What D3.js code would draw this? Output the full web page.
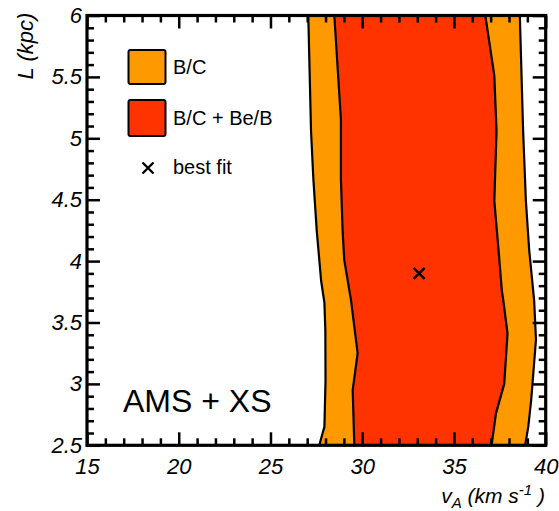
<!DOCTYPE html>
<html><head><meta charset="utf-8">
<script src="https://cdn.jsdelivr.net/npm/d3@7"></script>
<style>body{margin:0;background:#fff}</style>
</head><body><svg id="c" width="559" height="511" xmlns="http://www.w3.org/2000/svg"></svg>
<script>
// ---- data ----
const xDomain = [15, 40];
const yDomain = [2.5, 6];
const xMajor = [15, 20, 25, 30, 35, 40];
const yMajor = [2.5, 3, 3.5, 4, 4.5, 5, 5.5, 6];
const xTickLabels = ["15", "20", "25", "30", "35", "40"];
const yTickLabels = ["2.5", "3", "3.5", "4", "4.5", "5", "5.5", "6"];
// boundaries as [L, vA]
const orangeLeft = [[6,27.06],[5.06,27.21],[4.66,27.34],[4.25,27.52],[3.84,27.76],[3.66,27.94],[3.44,27.99],[3.03,28.0],[2.65,27.94],[2.62,27.88],[2.5,27.66]];
const orangeRight = [[6,38.59],[5.06,38.77],[4.49,38.92],[4.09,39.1],[3.68,39.37],[3.36,39.47],[2.87,39.21],[2.65,39.05],[2.5,38.88]];
const redLeft = [[6,28.48],[5.15,28.84],[4.66,28.84],[4.25,28.93],[4.01,29.02],[3.68,29.39],[3.25,29.75],[2.95,29.48],[2.5,29.57]];
const redRight = [[6,36.71],[5.51,37.2],[5.06,37.32],[4.49,37.2],[4.09,37.43],[3.76,37.61],[3.68,37.69],[3.41,37.92],[3.0,37.74],[2.76,37.29],[2.5,37.05]];
const bestFit = [33.1, 3.9];
const legendLabels = ["B/C", "B/C + Be/B", "best fit"];
const colors = ["#FF9900", "#FF3300"];
const annotation = "AMS + XS";

// ---- layout ----
const L = 87, R = 545.7, T = 15.5, B = 445.3;
const svg = d3.select("#c");
const x = d3.scaleLinear().domain(xDomain).range([L, R]);
const y = d3.scaleLinear().domain(yDomain).range([B, T]);
const font = "'Liberation Sans', Arial, Helvetica, sans-serif";

svg.append("defs").append("clipPath").attr("id","clip")
  .append("rect").attr("x",L).attr("y",T).attr("width",R-L).attr("height",B-T);

const plot = svg.append("g").attr("clip-path","url(#clip)");
function region(left, right){
  const pts = left.map(d=>[x(d[1]), y(d[0])]).concat(right.slice().reverse().map(d=>[x(d[1]), y(d[0])]));
  return "M" + pts.map(p=>p.join(",")).join("L") + "Z";
}
const line = d3.line().x(d=>x(d[1])).y(d=>y(d[0]));
plot.append("path").attr("d", region(orangeLeft, orangeRight)).attr("fill", colors[0]);
plot.append("path").attr("d", region(redLeft, redRight)).attr("fill", colors[1]);
[orangeLeft, orangeRight, redLeft, redRight].forEach(b=>{
  plot.append("path").attr("d", line(b)).attr("fill","none").attr("stroke","#000").attr("stroke-width",2.2).attr("stroke-linejoin","round");
});

// best fit cross
function cross(g, cx, cy, s){
  g.append("path").attr("d",`M${cx-s},${cy-s}L${cx+s},${cy+s}M${cx-s},${cy+s}L${cx+s},${cy-s}`)
   .attr("stroke","#000").attr("stroke-width",2.4).attr("fill","none");
}
cross(svg, x(bestFit[0]), y(bestFit[1]), 5.5);

// ---- axes ----
const xMinor = d3.range(16, 40, 1).filter(v=>v%5!==0);
const yMinor = d3.range(26, 60, 1).map(v=>v/10).filter(v=>Math.abs(v*2-Math.round(v*2))>1e-6);
function styleAxis(g){
  g.select(".domain").remove();
  g.attr("font-size",22).attr("font-family",font);
  g.selectAll(".tick line").attr("stroke","#000").attr("stroke-width",2.5);
  g.selectAll("text").attr("font-family",font).attr("font-style","italic").attr("font-size",22).attr("fill","#000");
}
// bottom
svg.append("g").attr("transform",`translate(0,${B})`)
  .call(d3.axisBottom(x).tickValues(xMajor).tickSize(-13).tickPadding(13).tickFormat((d,i)=>xTickLabels[i])).call(styleAxis);
svg.append("g").attr("transform",`translate(0,${B})`)
  .call(d3.axisBottom(x).tickValues(xMinor).tickSize(-7).tickFormat("")).call(styleAxis);
// top
svg.append("g").attr("transform",`translate(0,${T})`)
  .call(d3.axisTop(x).tickValues(xMajor).tickSize(-13).tickFormat("")).call(styleAxis);
svg.append("g").attr("transform",`translate(0,${T})`)
  .call(d3.axisTop(x).tickValues(xMinor).tickSize(-7).tickFormat("")).call(styleAxis);
// left
svg.append("g").attr("transform",`translate(${L},0)`)
  .call(d3.axisLeft(y).tickValues(yMajor).tickSize(-13).tickPadding(5).tickFormat((d,i)=>yTickLabels[i])).call(styleAxis);
svg.append("g").attr("transform",`translate(${L},0)`)
  .call(d3.axisLeft(y).tickValues(yMinor).tickSize(-7).tickFormat("")).call(styleAxis);
// right
svg.append("g").attr("transform",`translate(${R},0)`)
  .call(d3.axisRight(y).tickValues(yMajor).tickSize(-13).tickFormat("")).call(styleAxis);
svg.append("g").attr("transform",`translate(${R},0)`)
  .call(d3.axisRight(y).tickValues(yMinor).tickSize(-7).tickFormat("")).call(styleAxis);

// frame
svg.append("rect").attr("x",L).attr("y",T).attr("width",R-L).attr("height",B-T)
  .attr("fill","none").attr("stroke","#000").attr("stroke-width",3.2);

// axis titles
const xt = svg.append("text").attr("x",545).attr("y",503).attr("text-anchor","end")
  .attr("font-family",font).attr("font-style","italic").attr("font-size",21).attr("fill","#000");
xt.append("tspan").text("v");
xt.append("tspan").attr("dy",5).attr("font-size",15).text("A");
xt.append("tspan").attr("dy",-5).text(" (km s");
xt.append("tspan").attr("dy",-8).attr("font-size",15).text("-1");
xt.append("tspan").attr("dy",8).text(" )");

svg.append("text").attr("transform","translate(33,46) rotate(-90)").attr("text-anchor","middle")
  .attr("font-family",font).attr("font-style","italic").attr("font-size",22).attr("fill","#000")
  .text("L (kpc)");

// annotation
svg.append("text").attr("x",123).attr("y",412).attr("font-family",font).attr("font-size",32).attr("fill","#000").text(annotation);

// legend
const lg = svg.append("g");
[[50,84],[100,136]].forEach((yy,i)=>{
  lg.append("rect").attr("x",128.5).attr("y",yy[0]).attr("width",37).attr("height",yy[1]-yy[0])
    .attr("rx",2).attr("fill",colors[i]).attr("stroke","#000").attr("stroke-width",2);
});
const legY = [74, 125, 173.5];
legendLabels.forEach((t,i)=>{
  lg.append("text").attr("x",173).attr("y",legY[i]).attr("font-family",font).attr("font-size",20).attr("fill","#000").text(t);
});
cross(lg, 148, 168, 5.5);
</script></body></html>
